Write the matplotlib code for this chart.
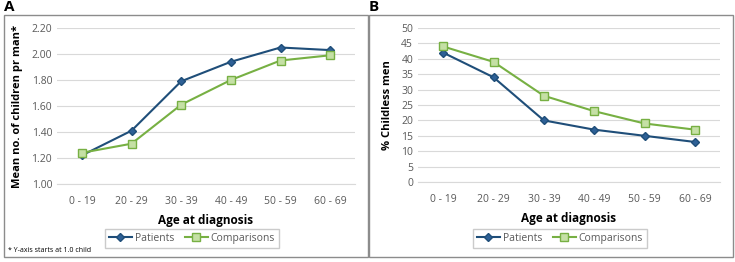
import matplotlib
matplotlib.use("Agg")
import matplotlib.pyplot as plt
from matplotlib.patches import Rectangle

plt.rcParams['font.family'] = ['Open Sans', 'DejaVu Sans']

categories = ["0 - 19", "20 - 29", "30 - 39", "40 - 49", "50 - 59", "60 - 69"]
mean_patients = [1.22, 1.41, 1.79, 1.94, 2.05, 2.03]
mean_comparisons = [1.24, 1.31, 1.61, 1.80, 1.95, 1.99]
childless_patients = [42, 34, 20, 17, 15, 13]
childless_comparisons = [44, 39, 28, 23, 19, 17]

W, H = 735, 262
fig = plt.figure(figsize=(W / 100, H / 100), dpi=100)


def px_axes(x0, y0, x1, y1):
    # pixel box (top-left origin) -> figure fraction
    return fig.add_axes([x0 / W, 1 - y1 / H, (x1 - x0) / W, (y1 - y0) / H])


def frame(x0, y0, x1, y1):
    fig.patches.append(Rectangle((x0 / W, 1 - y1 / H), (x1 - x0) / W, (y1 - y0) / H,
                                 transform=fig.transFigure, fill=False,
                                 edgecolor="#8c8c8c", linewidth=1.0))


def panel(ax, pat, comp, ylim, yticks, fmt, ylabel, legx):
    x = range(len(categories))
    ax.plot(x, pat, color="#1f4e79", linewidth=1.5, marker="D", markersize=4.5,
            markerfacecolor="#2e6096", markeredgecolor="#1f4e79", label="Patients", zorder=3)
    ax.plot(x, comp, color="#77b043", linewidth=1.5, marker="s", markersize=6,
            markerfacecolor="#c5e0a5", markeredgecolor="#77b043", label="Comparisons", zorder=3)
    ax.set_xlim(-0.5, len(categories) - 0.5)
    ax.set_ylim(*ylim)
    ax.set_yticks(yticks)
    ax.set_yticklabels([fmt.format(v) for v in yticks])
    ax.set_xticks(list(x))
    ax.set_xticklabels(categories)
    ax.grid(axis="y", color="#d9d9d9", linewidth=0.8)
    ax.set_axisbelow(True)
    for s in ["top", "right", "left"]:
        ax.spines[s].set_visible(False)
    ax.spines["bottom"].set_color("#d9d9d9")
    ax.tick_params(length=0, colors="#595959", labelsize=7.5)
    ax.tick_params(axis="x", pad=9)
    ax.set_xlabel("Age at diagnosis", fontsize=8.5, fontweight="bold", labelpad=5)
    ax.set_ylabel(ylabel, fontsize=8, fontweight="bold", labelpad=6)
    leg = ax.legend(loc="center", bbox_to_anchor=(legx / W, 1 - 238.5 / H),
                    bbox_transform=fig.transFigure, ncol=2, fontsize=7.5,
                    frameon=True, fancybox=False, edgecolor="#bfbfbf", handlelength=2.2,
                    columnspacing=1.0, handletextpad=0.3, borderpad=0.4)
    for t in leg.get_texts():
        t.set_color("#595959")


frame(4, 15, 368, 257)
frame(369, 15, 733, 257)

axA = px_axes(57, 28, 355, 184)
panel(axA, mean_patients, mean_comparisons, (1.0, 2.2),
      [1.0, 1.2, 1.4, 1.6, 1.8, 2.0, 2.2], "{:.2f}", "Mean no. of children pr man*", 192)

axB = px_axes(418, 28, 720, 182)
panel(axB, childless_patients, childless_comparisons, (0, 50),
      list(range(0, 51, 5)), "{:d}", "% Childless men", 560)

fig.text(4 / W, 1 - 7 / H, "A", fontsize=11, fontweight="bold", va="center", ha="left")
fig.text(369 / W, 1 - 7 / H, "B", fontsize=11, fontweight="bold", va="center", ha="left")
fig.text(8 / W, 1 - 250 / H, "* Y-axis starts at 1.0 child", fontsize=5, va="center", ha="left")

fig.savefig("out.png", dpi=100)
